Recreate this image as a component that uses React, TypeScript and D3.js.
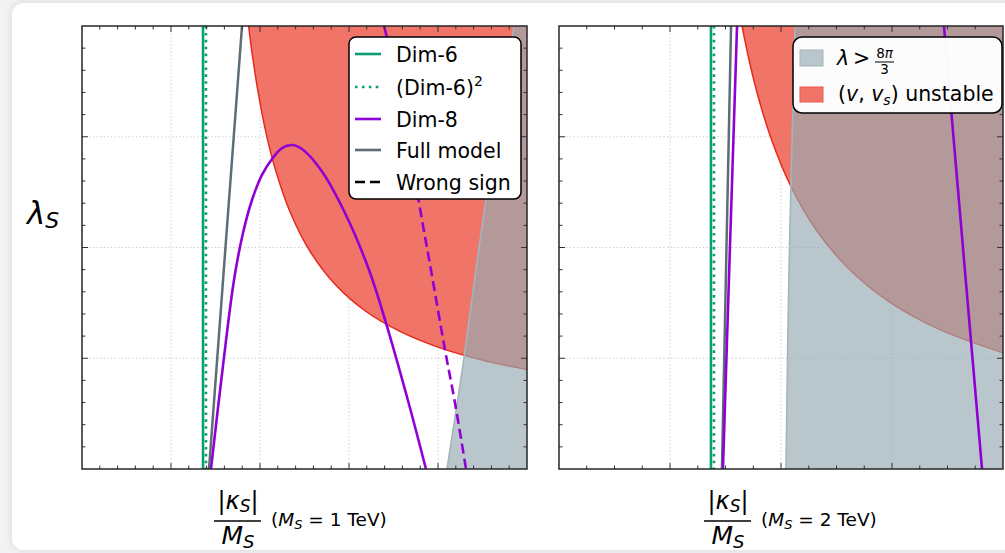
import React from "react";
import * as d3 from "d3";

type P = [number, number];

// ---------- data (x = |kappa_S|/M_S in axis units, y = lambda_S in axis units) ----------
const panelMass = ["1 TeV", "2 TeV"];
const xMax = [5, 4];
const yMax = 4;
const xMinorStep = [0.2, 0.25];
const yMinorStep = 0.2;

const dim6X = [1.36, 1.369];
const dim6SqX = [1.393, 1.396];

const fullModelLeft: P[] = [[1.427, 0], [1.612, 2.0], [1.798, 4.0]];
const fullModelRight: P[] = [[1.468, 0], [1.509, 2.0], [1.55, 4.0]];

const dim8Left: P[] = [
  [1.449, 0], [1.573, 0.858], [1.708, 1.707], [1.809, 2.131], [1.91, 2.429],
  [2.022, 2.655], [2.135, 2.799], [2.247, 2.898], [2.36, 2.926], [2.472, 2.889],
  [2.685, 2.7], [2.955, 2.312], [3.225, 1.797], [3.416, 1.318], [3.652, 0.65], [3.865, 0],
];
const dim8LeftUpper: P[] = [[3.393, 4.0], [3.44, 3.85], [3.483, 3.693]];
const dim8LeftWrongSign: P[] = [
  [3.483, 3.693], [3.629, 3.151], [3.787, 2.402], [3.921, 1.797],
  [4.079, 1.074], [4.191, 0.596], [4.315, 0],
];
const dim8RightRise: P[] = [[1.477, 0], [1.54, 2.0], [1.604, 4.0]];
const dim8RightFall: P[] = [[3.468, 4.0], [3.649, 1.887], [3.811, 0]];

const unstableLeft: P[] = [
  [1.872, 4.0], [1.91, 3.76], [1.978, 3.408], [2.067, 3.038], [2.18, 2.685],
  [2.337, 2.323], [2.562, 1.966], [2.843, 1.668], [3.18, 1.429], [3.573, 1.242],
  [4.022, 1.094], [4.528, 0.978], [5.0, 0.898],
];
const unstableRight: P[] = [
  [1.649, 4.0], [1.721, 3.655], [1.811, 3.302], [1.919, 2.962], [2.081, 2.569],
  [2.306, 2.174], [2.622, 1.797], [2.982, 1.505], [3.432, 1.259], [4.0, 1.05],
];

const pertLeft: P[] = [[4.101, 0], [4.292, 1.002], [4.427, 1.797], [4.539, 2.429], [4.854, 4.0]];
const pertRight: P[] = [[2.045, 0], [2.072, 1.797], [2.126, 4.0]];

const legendLabels = ["Dim-6", "(Dim-6)", "Dim-8", "Full model", "Wrong sign"];

// ---------- style ----------
const GREEN = "#0a9e74";
const PURPLE = "#9000d6";
const SLATE = "#5d6d76";
const RED_FILL = "#f07468";
const RED_EDGE = "#e62a1c";
const GRAY_FILL = "#96acb5";
const GRAY_ALPHA = 0.67;
const GRAY_EDGE = "#a3b5bc";
const FONT = "DejaVu Sans, Liberation Sans, sans-serif";

const TOP = 26;
const BOTTOM = 469;
const panelX: [number, number][] = [[82, 527], [559, 1003]];

function Panel({ idx }: { idx: number }) {
  const [x0, x1] = panelX[idx];
  const x = d3.scaleLinear().domain([0, xMax[idx]]).range([x0, x1]);
  const y = d3.scaleLinear().domain([0, yMax]).range([BOTTOM, TOP]);
  const line = d3.line<P>().x((d) => x(d[0])).y((d) => y(d[1])).curve(d3.curveCatmullRom.alpha(0.5));
  const straight = d3.line<P>().x((d) => x(d[0])).y((d) => y(d[1]));

  const unstable = idx === 0 ? unstableLeft : unstableRight;
  const pert = idx === 0 ? pertLeft : pertRight;
  const full = idx === 0 ? fullModelLeft : fullModelRight;

  const unstablePath = line(unstable) + `L${x(xMax[idx]) + 5},${y(unstable[unstable.length - 1][1])}L${x(xMax[idx]) + 5},${y(yMax) - 5}L${x(unstable[0][0])},${y(yMax) - 5}Z`;
  const pertPath = line(pert) + `L${x(pert[pert.length - 1][0])},${y(yMax) - 5}L${x(xMax[idx]) + 5},${y(yMax) - 5}L${x(xMax[idx]) + 5},${y(0) + 5}L${x(pert[0][0])},${y(0) + 5}Z`;

  const majorsX = d3.range(1, xMax[idx]);
  const majorsY = d3.range(1, yMax);
  const nMinX = Math.round(xMax[idx] / xMinorStep[idx]);
  const minorsX = d3.range(1, nMinX).map((k) => k * xMinorStep[idx]);
  const nMinY = Math.round(yMax / yMinorStep);
  const minorsY = d3.range(1, nMinY).map((k) => k * yMinorStep);
  const isMajor = (v: number) => Math.abs(v - Math.round(v)) < 1e-6;

  const clipId = `clip${idx}`;
  return (
    <g>
      <defs>
        <clipPath id={clipId}>
          <rect x={x0} y={TOP} width={x1 - x0} height={BOTTOM - TOP} />
        </clipPath>
      </defs>
      <rect x={x0} y={TOP} width={x1 - x0} height={BOTTOM - TOP} fill="#fff" />
      <g clipPath={`url(#${clipId})`}>
        {majorsX.map((v) => (
          <line key={"gx" + v} x1={x(v)} x2={x(v)} y1={TOP} y2={BOTTOM} stroke="#c2caca" strokeWidth={1} strokeDasharray="1.2,2.4" />
        ))}
        {majorsY.map((v) => (
          <line key={"gy" + v} x1={x0} x2={x1} y1={y(v)} y2={y(v)} stroke="#c2caca" strokeWidth={1} strokeDasharray="1.2,2.4" />
        ))}
        <path d={unstablePath} fill={RED_FILL} />
        <path d={line(unstable) || ""} fill="none" stroke={RED_EDGE} strokeWidth={1.5} />
        <path d={pertPath} fill={GRAY_FILL} fillOpacity={GRAY_ALPHA} />
        <path d={line(pert) || ""} fill="none" stroke={GRAY_EDGE} strokeWidth={1.6} />

        <line x1={x(dim6X[idx])} x2={x(dim6X[idx])} y1={TOP} y2={BOTTOM} stroke={GREEN} strokeWidth={2.6} />
        <line x1={x(dim6SqX[idx])} x2={x(dim6SqX[idx])} y1={TOP} y2={BOTTOM} stroke={GREEN} strokeWidth={2.6} strokeDasharray="2.6,4.3" />
        <path d={straight(full) || ""} fill="none" stroke={SLATE} strokeWidth={2.5} />
        {idx === 0 ? (
          <>
            <path d={line(dim8Left) || ""} fill="none" stroke={PURPLE} strokeWidth={2.6} />
            <path d={line(dim8LeftUpper) || ""} fill="none" stroke={PURPLE} strokeWidth={2.6} />
            <path d={line(dim8LeftWrongSign) || ""} fill="none" stroke={PURPLE} strokeWidth={2.6} strokeDasharray="10,5" />
          </>
        ) : (
          <>
            <path d={line(dim8RightRise) || ""} fill="none" stroke={PURPLE} strokeWidth={2.6} />
            <path d={line(dim8RightFall) || ""} fill="none" stroke={PURPLE} strokeWidth={2.6} />
          </>
        )}
      </g>
      {/* ticks */}
      {minorsX.map((v) => {
        const len = isMajor(v) ? 6 : 3.5;
        return (
          <g key={"tx" + v}>
            <line x1={x(v)} x2={x(v)} y1={BOTTOM} y2={BOTTOM - len} stroke="#333" strokeWidth={1} />
            <line x1={x(v)} x2={x(v)} y1={TOP} y2={TOP + len} stroke="#333" strokeWidth={1} />
          </g>
        );
      })}
      {minorsY.map((v) => {
        const len = isMajor(v) ? 6 : 3.5;
        return (
          <g key={"ty" + v}>
            <line x1={x0} x2={x0 + len} y1={y(v)} y2={y(v)} stroke="#333" strokeWidth={1} />
            <line x1={x1} x2={x1 - len} y1={y(v)} y2={y(v)} stroke="#333" strokeWidth={1} />
          </g>
        );
      })}
      <rect x={x0} y={TOP} width={x1 - x0} height={BOTTOM - TOP} fill="none" stroke="#262626" strokeWidth={1.5} />
      <XLabel cx={idx === 0 ? 238 : 728} mass={panelMass[idx]} />
    </g>
  );
}

function XLabel({ cx, mass }: { cx: number; mass: string }) {
  return (
    <g fontFamily={FONT} fill="#000">
      <text x={cx} y={509} fontSize={24} textAnchor="middle">
        |<tspan fontStyle="italic">κ</tspan>
        <tspan fontStyle="italic" fontSize={17} dy={3}>S</tspan>
        <tspan dy={-3}>|</tspan>
      </text>
      <line x1={cx - 24} x2={cx + 23} y1={521} y2={521} stroke="#000" strokeWidth={1.4} />
      <text x={cx} y={544} fontSize={25} textAnchor="middle">
        <tspan fontStyle="italic">M</tspan>
        <tspan fontStyle="italic" fontSize={18} dy={4}>S</tspan>
      </text>
      <text x={cx + 33} y={526} fontSize={18.5}>
        (<tspan fontStyle="italic">M</tspan>
        <tspan fontStyle="italic" fontSize={13} dy={3}>S</tspan>
        <tspan dy={-3}> = {mass})</tspan>
      </text>
    </g>
  );
}

function LeftLegend() {
  const bx = 349, by = 37, bw = 172, bh = 162;
  const rows = [54, 87, 119, 150, 182];
  const lx0 = 355, lx1 = 381, tx = 396;
  return (
    <g fontFamily={FONT} fontSize={20.5}>
      <rect x={bx} y={by} width={bw} height={bh} rx={7} fill="#fff" stroke="#000" strokeWidth={1.5} />
      <line x1={lx0} x2={lx1} y1={rows[0]} y2={rows[0]} stroke={GREEN} strokeWidth={2.6} />
      <line x1={lx0} x2={lx1} y1={rows[1]} y2={rows[1]} stroke={GREEN} strokeWidth={2.6} strokeDasharray="2.6,4.3" />
      <line x1={lx0} x2={lx1} y1={rows[2]} y2={rows[2]} stroke={PURPLE} strokeWidth={2.6} />
      <line x1={lx0} x2={lx1} y1={rows[3]} y2={rows[3]} stroke={SLATE} strokeWidth={2.6} />
      <line x1={lx0} x2={lx1} y1={rows[4]} y2={rows[4]} stroke="#000" strokeWidth={2.6} strokeDasharray="10,5" />
      {legendLabels.map((t, i) => (
        <text key={t} x={tx} y={rows[i] + 7.5} fill="#000">
          {t}
          {i === 1 ? <tspan fontSize={14} dy={-9}>2</tspan> : null}
        </text>
      ))}
    </g>
  );
}

function RightLegend() {
  const bx = 793, by = 37, bw = 209, bh = 76;
  return (
    <g fontFamily={FONT} fontSize={20.5} fill="#000">
      <rect x={bx} y={by} width={bw} height={bh} rx={9} fill="#fff" fillOpacity={0.97} stroke="#000" strokeWidth={1.5} />
      <rect x={800} y={50} width={23} height={16} fill={GRAY_FILL} fillOpacity={GRAY_ALPHA} stroke={GRAY_EDGE} strokeWidth={1} />
      <rect x={800} y={87} width={23} height={15} fill={RED_FILL} stroke="#ee5a4e" strokeWidth={1} />
      <text x={837} y={65}>
        <tspan fontStyle="italic">λ</tspan>
      </text>
      <text x={853} y={65}>&gt;</text>
      <text x={884.5} y={58} fontSize={13.5} textAnchor="middle">
        8<tspan fontStyle="italic">π</tspan>
      </text>
      <line x1={875} x2={894} y1={62} y2={62} stroke="#000" strokeWidth={1} />
      <text x={884.5} y={74} fontSize={13.5} textAnchor="middle">3</text>
      <text x={838} y={100.5}>
        (<tspan fontStyle="italic">v</tspan>, <tspan fontStyle="italic">v</tspan>
        <tspan fontStyle="italic" fontSize={14} dy={4}>s</tspan>
        <tspan dy={-4}>) unstable</tspan>
      </text>
    </g>
  );
}

export default function App() {
  return (
    <svg width={1005} height={553} style={{ position: "absolute", left: 0, top: 0 }}>
      <defs>
        <filter id="shadow" x="-5%" y="-5%" width="110%" height="110%">
          <feDropShadow dx={0} dy={0} stdDeviation={4} floodColor="#000" floodOpacity={0.12} />
        </filter>
      </defs>
      <rect x={0} y={0} width={1005} height={553} fill="#f3f3f5" />
      <rect x={12} y={3} width={1030} height={547} rx={12} fill="#fff" filter="url(#shadow)" />
      <Panel idx={0} />
      <Panel idx={1} />
      <LeftLegend />
      <RightLegend />
      <text x={27} y={224} fontFamily={FONT} fontSize={31} fontStyle="italic" fill="#000">
        λ<tspan fontSize={22} dy={4}>S</tspan>
      </text>
    </svg>
  );
}
